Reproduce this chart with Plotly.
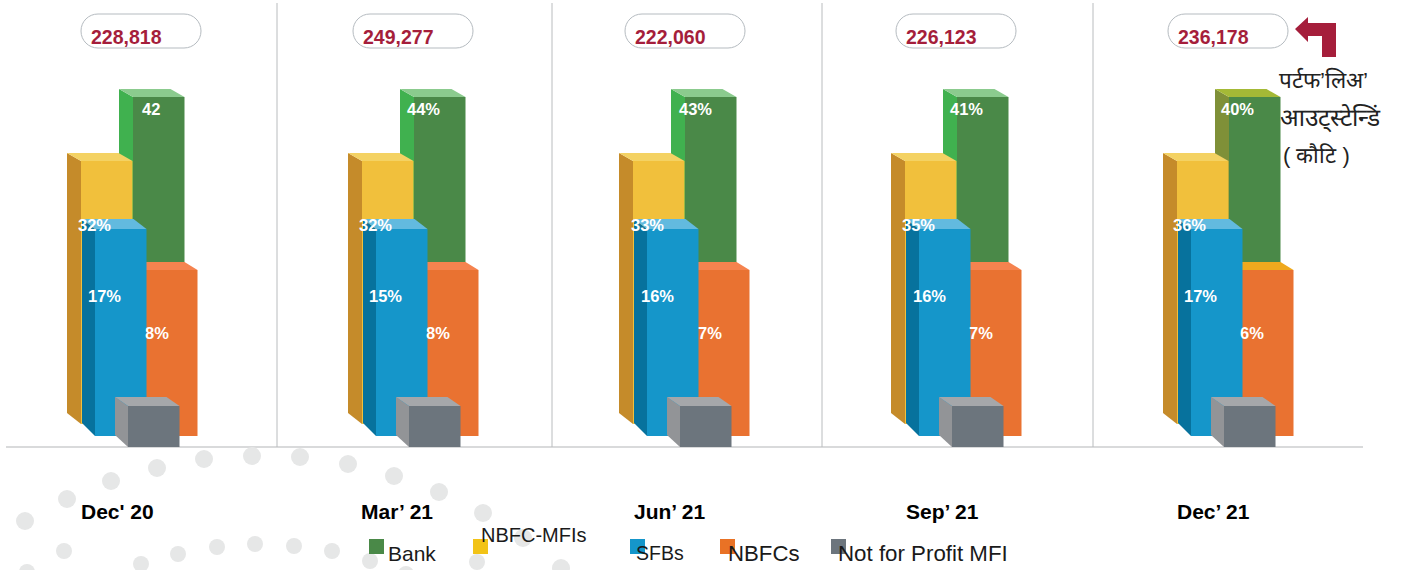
import plotly.graph_objects as go

# ---------- data ----------
periods = ["Dec' 20", "Mar’ 21", "Jun’ 21", "Sep’ 21", "Dec’ 21"]
totals = ["228,818", "249,277", "222,060", "226,123", "236,178"]
bank_labels = ["42", "44%", "43%", "41%", "40%"]
mfi_labels = ["32%", "32%", "33%", "35%", "36%"]
sfb_labels = ["17%", "15%", "16%", "16%", "17%"]
nbfc_labels = ["8%", "8%", "7%", "7%", "6%"]
legend_names = ["Bank", "NBFC-MFIs", "SFBs", "NBFCs", "Not for Profit MFI"]
# drawn heights (the infographic uses the same block sizes in every period)
bank_top = [350, 350, 350, 350, 350]
mfi_top = [286, 286, 286, 286, 286]
sfb_top = [218, 218, 218, 218, 218]
nbfc_top = [177, 177, 177, 177, 177]
npm_top = [41, 41, 41, 41, 41]
bank_base = [11, 11, 11, 11, 11]
mfi_base = [23, 23, 23, 23, 23]
sfb_base = [11, 11, 11, 11, 11]
nbfc_base = [11, 11, 11, 11, 11]
npm_base = [0, 0, 0, 0, 0]

# ---------- layout constants ----------
W, H = 1407, 570
BASE_PX = 447
def Y(py):
    return BASE_PX - py

group_left = [133, 414, 685, 957, 1229]
FONT = "Liberation Sans, Arial, sans-serif"

# z-order: back to front
series = [
    dict(top=bank_top, base=bank_base, off=0, w=51.5, dx=14, dyt=8, dyb=10,
         front="#4A8948", side="#40B14F", topc="#8BCB8E",
         side_last="#7F9038", top_last="#A4B936"),
    dict(top=mfi_top, base=mfi_base, off=-52, w=51.5, dx=14, dyt=8, dyb=11,
         front="#F1C03C", side="#C58B2A", topc="#F4D263"),
    dict(top=nbfc_top, base=nbfc_base, off=13, w=51.5, dx=13, dyt=8, dyb=10,
         front="#E97231", side="#E97231", topc="#F5834F", top_last="#EFA91E"),
    dict(top=sfb_top, base=sfb_base, off=-38, w=51.5, dx=13, dyt=10, dyb=13,
         front="#1596CA", side="#07729D", topc="#62BADF"),
    dict(top=npm_top, base=npm_base, off=-5, w=51.5, dx=13, dyt=9, dyb=12,
         front="#6C757D", side="#929497", topc="#A5A7AA"),
]

fig = go.Figure()

# decorative dot arcs (background, on the base axes)
dots_big_x = [25, 67, 111, 157, 204, 252, 300, 348, 394, 439, 483, 523, 561]
dots_big_y = [521, 499, 481, 468, 459, 456, 457, 464, 476, 492, 513, 538, 568]
dots_small_x = [27, 64, 141, 178, 217, 255, 294, 332, 370, 406, 477]
dots_small_y = [572, 551, 564, 554, 547, 544, 546, 551, 561, 574, 562]
fig.add_trace(go.Scatter(x=dots_big_x, y=[Y(v) for v in dots_big_y], mode="markers",
                         marker=dict(size=18, color="#E6E7E7"), hoverinfo="skip"))
fig.add_trace(go.Scatter(x=dots_small_x, y=[Y(v) for v in dots_small_y], mode="markers",
                         marker=dict(size=16, color="#E6E7E7"), hoverinfo="skip"))

axes = {}
for i, s in enumerate(series):
    n = i + 2
    xa, ya = f"x{n}", f"y{n}"
    axes[f"xaxis{n}"] = dict(range=[0, W], visible=False, overlaying="x", fixedrange=True)
    axes[f"yaxis{n}"] = dict(range=[Y(H), Y(0)], visible=False, overlaying="y", fixedrange=True)
    xs = [g + s["off"] for g in group_left]
    fig.add_trace(go.Bar(
        x=[v + s["w"] / 2 for v in xs],
        y=[t - b for t, b in zip(s["top"], s["base"])],
        base=s["base"], width=s["w"], marker=dict(color=s["front"], line=dict(width=0)),
        xaxis=xa, yaxis=ya, hoverinfo="skip"))
    for j, x0 in enumerate(xs):
        t, b = s["top"][j], s["base"][j]
        last = j == len(xs) - 1
        side_c = s.get("side_last", s["side"]) if last else s["side"]
        top_c = s.get("top_last", s["topc"]) if last else s["topc"]
        dx, w = s["dx"], s["w"]
        fig.add_trace(go.Scatter(
            x=[x0 - dx, x0, x0, x0 - dx, x0 - dx],
            y=[t + s["dyt"], t, b, b + s["dyb"], t + s["dyt"]],
            mode="lines", fill="toself", fillcolor=side_c, line=dict(width=0),
            xaxis=xa, yaxis=ya, hoverinfo="skip"))
        fig.add_trace(go.Scatter(
            x=[x0 - dx, x0 - dx + w, x0 + w, x0, x0 - dx],
            y=[t + s["dyt"], t + s["dyt"], t, t, t + s["dyt"]],
            mode="lines", fill="toself", fillcolor=top_c, line=dict(width=0),
            xaxis=xa, yaxis=ya, hoverinfo="skip"))

shapes = []
annos = []

def text(x, py, s, size, color, bold=False, anchor="center"):
    annos.append(dict(x=x, y=Y(py), xref="x", yref="y", text=f"<b>{s}</b>" if bold else s,
                      showarrow=False, xanchor=anchor, yanchor="middle",
                      font=dict(family=FONT, size=size, color=color)))

# baseline and separators
shapes.append(dict(type="line", xref="x", yref="y", x0=6, x1=1363, y0=0, y1=0,
                   line=dict(color="#D9DADB", width=2), layer="below"))
for sx in [277, 552, 822, 1093]:
    shapes.append(dict(type="line", xref="x", yref="y", x0=sx, x1=sx, y0=Y(3), y1=0,
                       line=dict(color="#B9BCBE", width=1), layer="below"))

# total pills
pill_left = [81, 353, 625, 896, 1168]
for px, total in zip(pill_left, totals):
    r, k = 17, 7.5
    x0, x1, t, b = px, px + 120, Y(14), Y(48)
    path = (f"M {x0+r},{t} L {x1-r},{t} C {x1-k},{t} {x1},{t-k} {x1},{t-r} "
            f"C {x1},{b+k} {x1-k},{b} {x1-r},{b} L {x0+r},{b} "
            f"C {x0+k},{b} {x0},{b+k} {x0},{b+r} C {x0},{t-k} {x0+k},{t} {x0+r},{t} Z")
    shapes.append(dict(type="path", path=path, xref="x", yref="y",
                       line=dict(color="#B5BBC0", width=1)))
    text(px + 7.5, 37, total, 19.5, "#A51E3B", bold=True, anchor="left")

# period labels
for x, p in zip([117, 396.5, 670, 942, 1213], periods):
    text(x, 511, p, 21, "#000000", bold=True)

# value labels
for xs, py, labels in [
    ([150.5, 423.5, 695.5, 966.5, 1237.5], 109, bank_labels),
    ([94, 375, 647, 918, 1189], 225, mfi_labels),
    ([104, 385, 657, 929, 1200], 296, sfb_labels),
    ([157, 438, 710, 981, 1252], 333, nbfc_labels),
]:
    for x, lab in zip(xs, labels):
        text(x, py, lab, 16.5, "#FFFFFF", bold=True)

# legend
legend_sq = [(369, 539, "#4A8948"), (473, 539, "#F2C317"), (630, 539, "#1596CA"),
             (720, 539, "#E97225"), (831, 539, "#6C757D")]
for x, py, c in legend_sq:
    shapes.append(dict(type="rect", xref="x", yref="y", x0=x, x1=x + 15, y0=Y(py), y1=Y(py + 15),
                       fillcolor=c, line=dict(width=0)))
for x, py, name, size in zip([386, 479, 634, 726, 836], [553, 535, 553, 553, 553], legend_names,
                             [21, 20, 19.5, 22.2, 22.3]):
    text(x, py, name, size, "#1A1A1A", anchor="left")

# arrow
pts = [(1295, 29), (1308, 17), (1308, 23), (1336, 23), (1336, 57), (1322, 57), (1322, 36), (1308, 36), (1308, 42)]
shapes.append(dict(type="path", xref="x", yref="y", fillcolor="#A51E3B", line=dict(width=0),
                   path="M " + " L ".join(f"{x},{Y(y)}" for x, y in pts) + " Z"))

# side caption
for x, py, line, size in [(1323.5, 80, "पर्टफ’लिअ’", 22.5), (1330, 118, "आउट्स्टेन्डिं", 24.5), (1316, 155, "( कौटि )", 22)]:
    text(x, py, line, size, "#222222")

fig.update_layout(
    width=W, height=H, autosize=False, margin=dict(l=0, r=0, t=0, b=0),
    paper_bgcolor="#FFFFFF", plot_bgcolor="#FFFFFF", showlegend=False, barmode="overlay",
    xaxis=dict(range=[0, W], visible=False, fixedrange=True),
    yaxis=dict(range=[Y(H), Y(0)], visible=False, fixedrange=True),
    shapes=shapes, annotations=annos, **axes,
)
fig.write_html("out.html", config=dict(displayModeBar=False),
               post_script="document.body.style.margin='0';document.body.style.overflow='hidden';")
